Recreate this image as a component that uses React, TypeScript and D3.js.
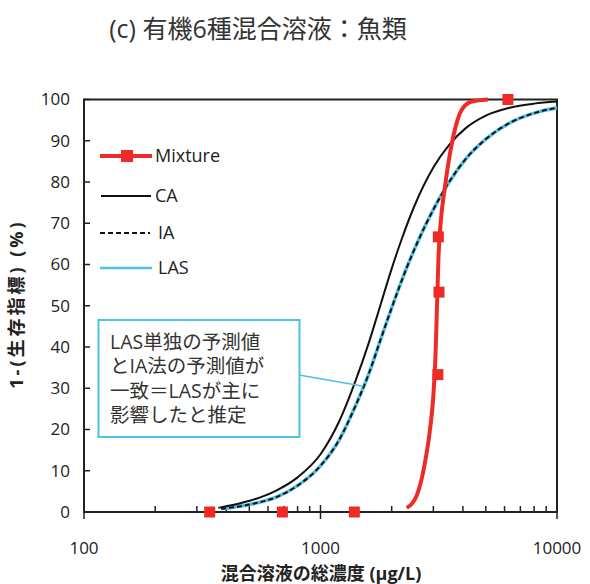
import React from "react";
import * as d3 from "d3";

// mixture observations (concentration μg/L, effect %)
const mixtureObsConc = [340, 690, 1390, 3135, 3170, 3150, 6200];
const mixtureObsEffect = [0, 0, 0, 33.3, 53.3, 66.7, 100];

// fitted mixture curve
const mixtureConc = [2315, 2552, 2766, 2904, 2999, 3064, 3109, 3155, 3232, 3344, 3460, 3643, 3954, 4359, 5108];
const mixtureEffect = [1, 4, 12, 20, 28, 38, 50, 62, 71, 78, 84, 91, 97.5, 99.5, 100];

// CA prediction
const caConc = [370, 470, 560, 650, 800, 1000, 1200, 1400, 1600, 1800, 2000, 2200, 2500, 3000, 3500, 4100, 5000, 6300, 8000, 10000];
const caEffect = [1, 2.3, 3.6, 5.2, 8.4, 14, 22, 31.5, 41, 50.5, 59, 66, 74.3, 83.5, 89, 93, 96.1, 98, 99, 99.5];

// IA prediction
const iaConc = [380, 500, 650, 800, 1000, 1200, 1400, 1600, 1800, 2000, 2300, 2600, 3000, 3500, 4100, 5000, 6300, 8000, 10000];
const iaEffect = [0.8, 1.8, 3.6, 6.4, 11.2, 17.5, 25.5, 33.5, 42, 49.5, 58.8, 66, 73.3, 80, 85.5, 90.4, 94.3, 96.7, 98];

// LAS alone prediction (coincides with IA)
const lasConc = [380, 500, 650, 800, 1000, 1200, 1400, 1600, 1800, 2000, 2300, 2600, 3000, 3500, 4100, 5000, 6300, 8000, 10000];
const lasEffect = [0.8, 1.8, 3.6, 6.4, 11.2, 17.5, 25.5, 33.5, 42, 49.5, 58.8, 66, 73.3, 80, 85.5, 90.4, 94.3, 96.7, 98];

const xTickLabels = [100, 1000, 10000];
const yTickLabels = [0, 10, 20, 30, 40, 50, 60, 70, 80, 90, 100];

const legendItems = ["Mixture", "CA", "IA", "LAS"];
const noteLines = ["LAS単独の予測値", "とIA法の予測値が", "一致＝LASが主に", "影響したと推定"];
// point on the LAS curve that the callout points to
const notePoint = [1520, 30.5];

const RED = "#ee2b26";
const BLUE = "#4fc0e6";
const FONT = "'Open Sans', 'Noto Sans CJK JP', sans-serif";

const App = () => {
  const width = 590;
  const height = 584;
  const left = 84;
  const right = 557;
  const top = 99.5;
  const bottom = 512;

  const x = d3.scaleLog().domain([100, 10000]).range([left, right]);
  const y = d3.scaleLinear().domain([0, 100]).range([bottom, top]);

  const line = d3
    .line<[number, number]>()
    .x((d) => x(d[0]))
    .y((d) => y(d[1]))
    .curve(d3.curveMonotoneX);

  const zip = (a: number[], b: number[]) => a.map((v, i) => [v, b[i]] as [number, number]);

  // minor ticks for the log axis
  const minorTicks = x.ticks().filter((t) => !xTickLabels.includes(t));

  const legendY = [156, 196, 233, 268];

  return (
    <svg
      width={width}
      height={height}
      style={{ position: "absolute", left: 0, top: 0, background: "#fff" }}
      fontFamily={FONT}
    >
      <text x={258} y={38} textAnchor="middle" fontSize={25} fill="#333">
        (c) 有機6種混合溶液：魚類
      </text>

      {/* y ticks (inside) */}
      {yTickLabels.map((t) => (
        <g key={"y" + t}>
          <line x1={left} x2={left + 6} y1={y(t)} y2={y(t)} stroke="#222" strokeWidth={1.5} />
          <text x={70} y={y(t)} dy="0.35em" textAnchor="end" fontSize={17} fill="#222">
            {t}
          </text>
        </g>
      ))}

      {/* x ticks */}
      {minorTicks.map((t) => (
        <line key={"m" + t} x1={x(t)} x2={x(t)} y1={bottom} y2={bottom - 6} stroke="#222" strokeWidth={1.5} />
      ))}
      {xTickLabels.map((t) => (
        <g key={"x" + t}>
          <line x1={x(t)} x2={x(t)} y1={bottom - 7} y2={bottom + 7} stroke="#222" strokeWidth={1.5} />
          <text x={x(t)} y={554} textAnchor="middle" fontSize={17} fill="#222">
            {t}
          </text>
        </g>
      ))}

      {/* frame */}
      <rect x={left} y={top} width={right - left} height={bottom - top} fill="none" stroke="#222" strokeWidth={2} />

      {/* curves */}
      <path d={line(zip(lasConc, lasEffect)) || ""} fill="none" stroke={BLUE} strokeWidth={3.5} />
      <path d={line(zip(iaConc, iaEffect)) || ""} fill="none" stroke="#111" strokeWidth={2} strokeDasharray="5,3" />
      <path d={line(zip(caConc, caEffect)) || ""} fill="none" stroke="#111" strokeWidth={2} />
      <path d={line(zip(mixtureConc, mixtureEffect)) || ""} fill="none" stroke={RED} strokeWidth={4} />
      {mixtureObsConc.map((c, i) => (
        <rect key={"p" + i} x={x(c) - 5.5} y={y(mixtureObsEffect[i]) - 5.5} width={11} height={11} fill={RED} />
      ))}

      {/* legend */}
      {legendItems.map((name, i) => {
        const ly = legendY[i];
        return (
          <g key={name}>
            {i === 0 && (
              <>
                <line x1={100} x2={152} y1={ly} y2={ly} stroke={RED} strokeWidth={4} />
                <rect x={121} y={ly - 6} width={12} height={12} fill={RED} />
              </>
            )}
            {i === 1 && <line x1={101} x2={151} y1={ly} y2={ly} stroke="#111" strokeWidth={2} />}
            {i === 2 && (
              <line x1={100} x2={150} y1={ly} y2={ly} stroke="#111" strokeWidth={2} strokeDasharray="5,3" />
            )}
            {i === 3 && <line x1={100} x2={152} y1={ly} y2={ly} stroke={BLUE} strokeWidth={2.5} />}
            <text x={i === 0 || i === 1 ? 155 : 158} y={ly} dy="0.35em" fontSize={18} fill="#222">
              {name}
            </text>
          </g>
        );
      })}

      {/* callout */}
      <line x1={299} y1={375} x2={x(notePoint[0])} y2={y(notePoint[1])} stroke={BLUE} strokeWidth={1.5} />
      <rect x={98.5} y={320} width={201} height={117} fill="#fff" stroke={BLUE} strokeWidth={2} />
      {noteLines.map((s, i) => (
        <text key={i} x={110} y={342 + i * 24.5} dy="0.35em" fontSize={19.5} fill="#333">
          {s}
        </text>
      ))}

      {/* axis titles */}
      <text x={321} y={580} textAnchor="middle" fontSize={18} fontWeight="bold" fill="#222">
        混合溶液の総濃度 (μg/L)
      </text>
      <text
        transform="translate(23,304) rotate(-90)"
        textAnchor="middle"
        fontSize={18}
        fontWeight="bold"
        letterSpacing={3}
        fill="#222"
      >
        1-(生存指標) (%)
      </text>
    </svg>
  );
};

export default App;
